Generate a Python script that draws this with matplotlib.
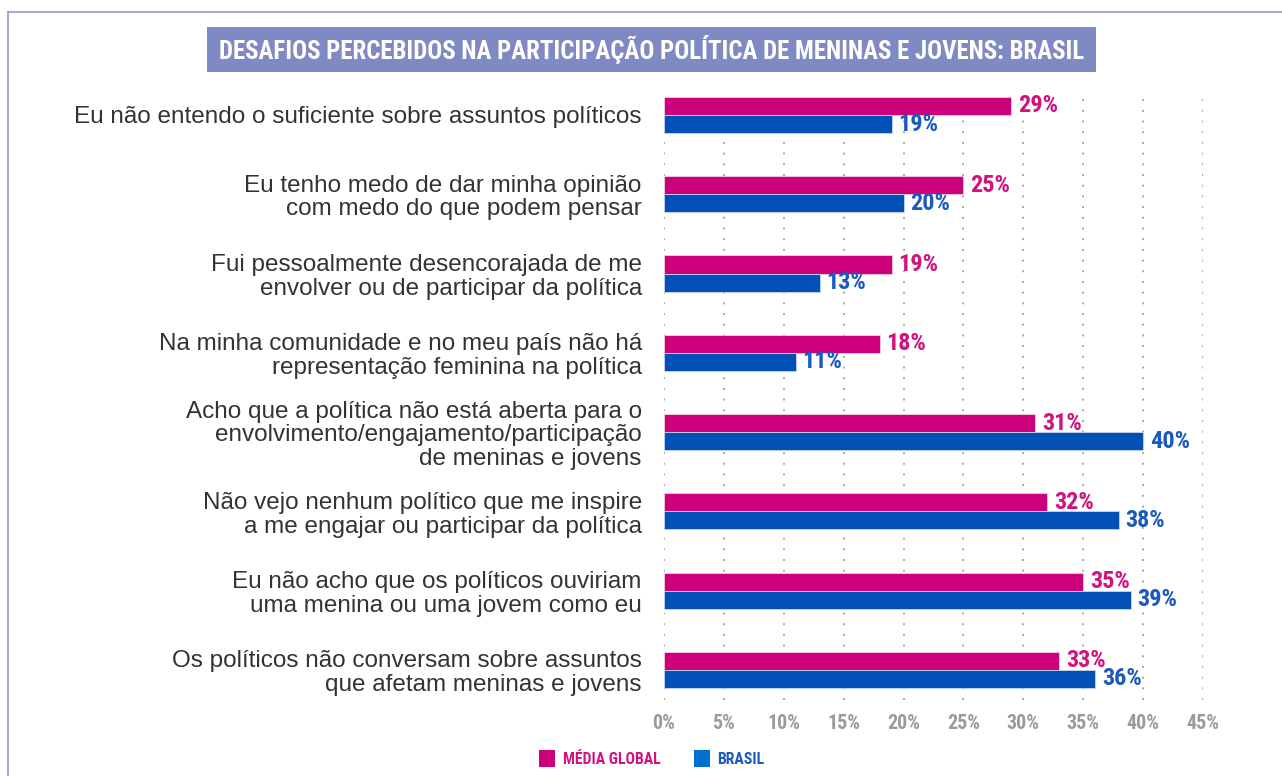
import matplotlib
matplotlib.use("Agg")
import os
import matplotlib.pyplot as plt
import matplotlib.font_manager as fm
from matplotlib.patches import Rectangle
from matplotlib.lines import Line2D
import numpy as np

# data
categories = [
    "Eu não entendo o suficiente sobre assuntos políticos",
    "Eu tenho medo de dar minha opinião\ncom medo do que podem pensar",
    "Fui pessoalmente desencorajada de me\nenvolver ou de participar da política",
    "Na minha comunidade e no meu país não há\nrepresentação feminina na política",
    "Acho que a política não está aberta para o\nenvolvimento/engajamento/participação\nde meninas e jovens",
    "Não vejo nenhum político que me inspire\na me engajar ou participar da política",
    "Eu não acho que os políticos ouviriam\numa menina ou uma jovem como eu",
    "Os políticos não conversam sobre assuntos\nque afetam meninas e jovens",
]
media_global = [29, 25, 19, 18, 31, 32, 35, 33]
brasil = [19, 20, 13, 11, 40, 38, 39, 36]
xticks = [0, 5, 10, 15, 20, 25, 30, 35, 40, 45]
title = "DESAFIOS PERCEBIDOS NA PARTICIPAÇÃO POLÍTICA DE MENINAS E JOVENS: BRASIL"

PINK = "#CC007A"
BLUE = "#0050B5"
PINK_TXT = "#D1127F"
BLUE_TXT = "#1A59BE"
GREY = "#9A9A9A"
BANNER = "#7F89C4"


# look for a condensed bold face, the reference uses a narrow display font
def find_condensed():
    prefs = ["robotocondensed-bold", "opensanscondensed-bold", "opensans_condensed-bold",
             "liberationsansnarrow-bold", "dejavusanscondensed-bold"]
    files = [f.fname for f in fm.fontManager.ttflist]
    for p in prefs:
        for fn in files:
            if os.path.basename(fn).lower().replace(" ", "").startswith(p):
                return fm.FontProperties(fname=fn)
    for f in fm.fontManager.ttflist:
        n = os.path.basename(f.fname).lower()
        if ("condensed" in n or "narrow" in n) and "bold" in n and "italic" not in n:
            return fm.FontProperties(fname=f.fname)
    return fm.FontProperties(family="DejaVu Sans", weight="bold")


COND = find_condensed()


def cfont(size):
    p = COND.copy()
    p.set_size(size)
    return p


W, H = 1282, 776
fig = plt.figure(figsize=(W / 100, H / 100), dpi=100)
renderer = fig.canvas.get_renderer()


def fit(t, target_px):
    # scale the font so the text spans target_px
    w = t.get_window_extent(renderer).width
    t.set_fontsize(t.get_fontsize() * target_px / w)


# axes placed in pixel terms
left, right, top, bottom = 664, 1203, 92, 700
ax = fig.add_axes([left / W, 1 - bottom / H, (right - left) / W, (bottom - top) / H])

y = np.arange(len(categories))
bh = 0.228
ax.barh(y - bh / 2, media_global, height=bh, color=PINK, edgecolor="#f0d0e0", linewidth=0.6, zorder=3)
ax.barh(y + bh / 2, brasil, height=bh, color=BLUE, edgecolor="#c8d4ef", linewidth=0.6, zorder=3)

ax.set_xlim(0, 45)
ax.set_ylim(7.38, -0.29)

probe = ax.text(0, 0, "29%", fontproperties=cfont(14))
fit(probe, 40)
vsize = probe.get_fontsize()
probe.remove()

for i in range(len(categories)):
    ax.text(media_global[i] + 0.55, y[i] - bh / 2, f"{media_global[i]}%", color=PINK_TXT,
            va="center", ha="left", fontproperties=cfont(vsize))
    ax.text(brasil[i] + 0.55, y[i] + bh / 2, f"{brasil[i]}%", color=BLUE_TXT,
            va="center", ha="left", fontproperties=cfont(vsize))

probe = ax.text(0, 0, "10%", fontproperties=cfont(14))
fit(probe, 33)
tsize = probe.get_fontsize()
probe.remove()

ax.set_xticks(xticks)
ax.set_xticklabels([f"{t}%" for t in xticks], color=GREY, fontproperties=cfont(tsize))
ax.set_yticks(y)
ax.set_yticklabels(categories, fontsize=17.5, family="Liberation Sans", color="#333333",
                   linespacing=1.1)
ax.tick_params(axis="both", length=0)
ax.tick_params(axis="y", pad=16)
ax.tick_params(axis="x", pad=10)
for s in ax.spines.values():
    s.set_visible(False)
ax.grid(axis="x", color="#A8A8A8", linestyle=(0, (1, 4.5)), linewidth=1.4, zorder=0)

# frame lines (top and left)
fig.add_artist(Line2D([8 / W, 1], [1 - 12 / H, 1 - 12 / H], color="#9C96D2", linewidth=1.2))
fig.add_artist(Line2D([8 / W, 8 / W], [0, 1 - 12 / H], color="#9C96D2", linewidth=1.2))

# title banner
fig.add_artist(Rectangle((207 / W, 1 - 72 / H), (1096 - 207) / W, 45 / H,
                         transform=fig.transFigure, color=BANNER, linewidth=0))
tt = fig.text((207 + 1096) / 2 / W, 1 - 50 / H, title, color="white",
              ha="center", va="center", fontproperties=cfont(20))
fit(tt, 866)

# legend
fig.add_artist(Rectangle((539 / W, 1 - 767 / H), 16 / W, 17 / H,
                         transform=fig.transFigure, color=PINK, linewidth=0))
lg1 = fig.text(563 / W, 1 - 759 / H, "MÉDIA GLOBAL", color=PINK_TXT,
               ha="left", va="center", fontproperties=cfont(13))
fit(lg1, 98)
fig.add_artist(Rectangle((694 / W, 1 - 767 / H), 16 / W, 17 / H,
                         transform=fig.transFigure, color="#0070D0", linewidth=0))
fig.text(717 / W, 1 - 759 / H, "BRASIL", color=BLUE_TXT,
         ha="left", va="center", fontproperties=cfont(lg1.get_fontsize()))

fig.savefig("out.png", dpi=100)
